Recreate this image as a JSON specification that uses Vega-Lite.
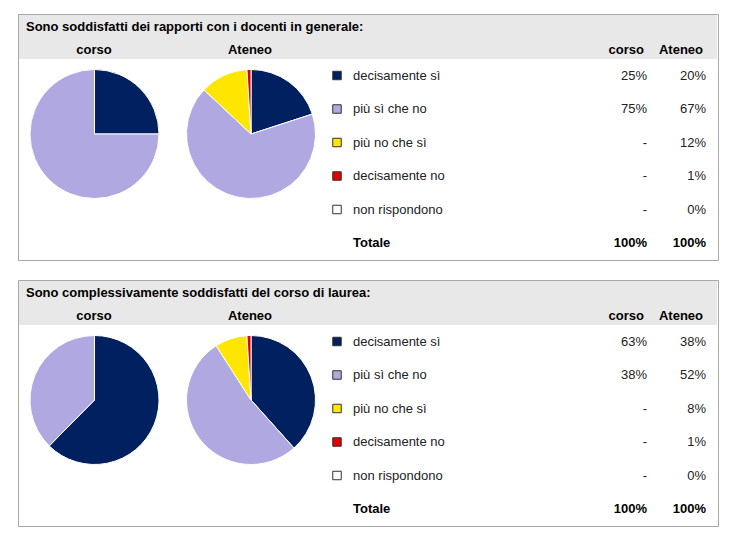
{
  "$schema": "https://vega.github.io/schema/vega-lite/v6.json",
  "background": "white",
  "padding": {"left": 17, "top": 13, "right": 16, "bottom": 5},
  "config": {
    "view": {"stroke": "#a8a8a8", "strokeWidth": 1},
    "font": "Liberation Sans",
    "text": {"font": "Liberation Sans", "fontSize": 13}
  },
  "data": {
    "values": [
      {"q": "Sono soddisfatti dei rapporti con i docenti in generale:", "scope": "corso", "cat": "decisamente sì", "order": 1, "v": 0.25},
      {"q": "Sono soddisfatti dei rapporti con i docenti in generale:", "scope": "corso", "cat": "più sì che no", "order": 2, "v": 0.75},
      {"q": "Sono soddisfatti dei rapporti con i docenti in generale:", "scope": "corso", "cat": "più no che sì", "order": 3, "v": null},
      {"q": "Sono soddisfatti dei rapporti con i docenti in generale:", "scope": "corso", "cat": "decisamente no", "order": 4, "v": null},
      {"q": "Sono soddisfatti dei rapporti con i docenti in generale:", "scope": "corso", "cat": "non rispondono", "order": 5, "v": null},
      {"q": "Sono soddisfatti dei rapporti con i docenti in generale:", "scope": "corso", "cat": "Totale", "order": 6, "v": 1},
      {"q": "Sono soddisfatti dei rapporti con i docenti in generale:", "scope": "Ateneo", "cat": "decisamente sì", "order": 1, "v": 0.20},
      {"q": "Sono soddisfatti dei rapporti con i docenti in generale:", "scope": "Ateneo", "cat": "più sì che no", "order": 2, "v": 0.67},
      {"q": "Sono soddisfatti dei rapporti con i docenti in generale:", "scope": "Ateneo", "cat": "più no che sì", "order": 3, "v": 0.12},
      {"q": "Sono soddisfatti dei rapporti con i docenti in generale:", "scope": "Ateneo", "cat": "decisamente no", "order": 4, "v": 0.01},
      {"q": "Sono soddisfatti dei rapporti con i docenti in generale:", "scope": "Ateneo", "cat": "non rispondono", "order": 5, "v": 0},
      {"q": "Sono soddisfatti dei rapporti con i docenti in generale:", "scope": "Ateneo", "cat": "Totale", "order": 6, "v": 1},
      {"q": "Sono complessivamente soddisfatti del corso di laurea:", "scope": "corso", "cat": "decisamente sì", "order": 1, "v": 0.63},
      {"q": "Sono complessivamente soddisfatti del corso di laurea:", "scope": "corso", "cat": "più sì che no", "order": 2, "v": 0.38},
      {"q": "Sono complessivamente soddisfatti del corso di laurea:", "scope": "corso", "cat": "più no che sì", "order": 3, "v": null},
      {"q": "Sono complessivamente soddisfatti del corso di laurea:", "scope": "corso", "cat": "decisamente no", "order": 4, "v": null},
      {"q": "Sono complessivamente soddisfatti del corso di laurea:", "scope": "corso", "cat": "non rispondono", "order": 5, "v": null},
      {"q": "Sono complessivamente soddisfatti del corso di laurea:", "scope": "corso", "cat": "Totale", "order": 6, "v": 1},
      {"q": "Sono complessivamente soddisfatti del corso di laurea:", "scope": "Ateneo", "cat": "decisamente sì", "order": 1, "v": 0.38},
      {"q": "Sono complessivamente soddisfatti del corso di laurea:", "scope": "Ateneo", "cat": "più sì che no", "order": 2, "v": 0.52},
      {"q": "Sono complessivamente soddisfatti del corso di laurea:", "scope": "Ateneo", "cat": "più no che sì", "order": 3, "v": 0.08},
      {"q": "Sono complessivamente soddisfatti del corso di laurea:", "scope": "Ateneo", "cat": "decisamente no", "order": 4, "v": 0.01},
      {"q": "Sono complessivamente soddisfatti del corso di laurea:", "scope": "Ateneo", "cat": "non rispondono", "order": 5, "v": 0},
      {"q": "Sono complessivamente soddisfatti del corso di laurea:", "scope": "Ateneo", "cat": "Totale", "order": 6, "v": 1}
    ]
  },
  "facet": {
    "row": {
      "field": "q",
      "type": "nominal",
      "sort": ["Sono soddisfatti dei rapporti con i docenti in generale:", "Sono complessivamente soddisfatti del corso di laurea:"],
      "header": {"title": null, "labels": false}
    }
  },
  "spacing": {"row": 18},
  "spec": {
    "width": 700,
    "height": 246,
    "resolve": {"scale": {"x": "independent"}},
    "layer": [
      {
        "transform": [{"filter": "datum.cat === 'decisamente sì' && datum.scope === 'corso'"}],
        "mark": {"type": "rect", "fill": "#e8e8e8"},
        "encoding": {
          "x": {"value": 1},
          "x2": {"value": 699},
          "y": {"value": 1},
          "y2": {"value": 45}
        }
      },
      {
        "transform": [{"filter": "datum.cat === 'decisamente sì' && datum.scope === 'corso'"}],
        "mark": {"type": "text", "align": "left", "baseline": "middle", "fontWeight": "bold", "fontSize": 13, "color": "#000"},
        "encoding": {
          "x": {"value": 8},
          "y": {"value": 13},
          "text": {"field": "q", "type": "nominal"}
        }
      },
      {
        "transform": [{"filter": "datum.cat === 'decisamente sì'"}],
        "mark": {"type": "text", "align": "center", "baseline": "middle", "fontWeight": "bold", "fontSize": 13, "color": "#000"},
        "encoding": {
          "x": {"field": "scope", "type": "nominal", "scale": {"type": "point", "domain": ["corso", "Ateneo"], "range": [76, 232], "padding": 0}, "axis": null},
          "y": {"value": 36},
          "text": {"field": "scope", "type": "nominal"}
        }
      },
      {
        "transform": [{"filter": "datum.cat === 'decisamente sì'"}],
        "mark": {"type": "text", "align": "right", "baseline": "middle", "fontWeight": "bold", "fontSize": 13, "color": "#000", "dx": -3},
        "encoding": {
          "x": {"field": "scope", "type": "nominal", "scale": {"type": "point", "domain": ["corso", "Ateneo"], "range": [629, 688], "padding": 0}, "axis": null},
          "y": {"value": 36},
          "text": {"field": "scope", "type": "nominal"}
        }
      },
      {
        "transform": [
          {"filter": "datum.cat !== 'Totale' && datum.v > 0"},
          {"stack": "v", "groupby": ["q", "scope"], "sort": [{"field": "order", "order": "ascending"}], "offset": "normalize", "as": ["t0", "t1"]}
        ],
        "mark": {"type": "arc", "radius": 64.5, "stroke": "white", "strokeWidth": 1},
        "encoding": {
          "x": {"field": "scope", "type": "nominal", "scale": {"type": "point", "domain": ["corso", "Ateneo"], "range": [76.5, 233], "padding": 0}, "axis": null},
          "y": {"value": 120},
          "theta": {"field": "t0", "type": "quantitative", "scale": {"domain": [0, 1]}},
          "theta2": {"field": "t1"},
          "color": {
            "field": "cat", "type": "nominal",
            "scale": {"domain": ["decisamente sì", "più sì che no", "più no che sì", "decisamente no", "non rispondono"], "range": ["#002060", "#b0a8e0", "#ffe600", "#e00000", "#ffffff"]},
            "legend": null
          }
        }
      },
      {
        "transform": [{"filter": "datum.cat !== 'Totale' && datum.scope === 'corso'"}],
        "mark": {"type": "point", "shape": "square", "filled": true, "size": 72, "stroke": "#333", "strokeWidth": 1, "opacity": 1},
        "encoding": {
          "x": {"value": 319},
          "y": {"field": "cat", "type": "nominal", "scale": {"type": "point", "domain": ["decisamente sì", "più sì che no", "più no che sì", "decisamente no", "non rispondono", "Totale"], "range": [61.5, 229], "padding": 0}, "axis": null},
          "color": {"field": "cat", "type": "nominal", "legend": null}
        }
      },
      {
        "transform": [{"filter": "datum.cat !== 'Totale' && datum.scope === 'corso'"}],
        "mark": {"type": "text", "align": "left", "baseline": "middle", "fontSize": 13, "color": "#222"},
        "encoding": {
          "x": {"value": 335},
          "y": {"field": "cat", "type": "nominal", "axis": null},
          "text": {"field": "cat", "type": "nominal"}
        }
      },
      {
        "transform": [{"filter": "datum.cat === 'Totale' && datum.scope === 'corso'"}],
        "mark": {"type": "text", "align": "left", "baseline": "middle", "fontSize": 13, "fontWeight": "bold", "color": "#000"},
        "encoding": {
          "x": {"value": 335},
          "y": {"field": "cat", "type": "nominal", "axis": null},
          "text": {"field": "cat", "type": "nominal"}
        }
      },
      {
        "transform": [{"filter": "datum.cat !== 'Totale'"}],
        "mark": {"type": "text", "align": "right", "baseline": "middle", "fontSize": 13, "color": "#222"},
        "encoding": {
          "x": {"field": "scope", "type": "nominal", "scale": {"type": "point", "domain": ["corso", "Ateneo"], "range": [629, 688], "padding": 0}, "axis": null},
          "y": {"field": "cat", "type": "nominal", "axis": null},
          "text": {"condition": {"test": "datum.v === null", "value": "-"}, "field": "v", "type": "quantitative", "format": ".0%"}
        }
      },
      {
        "transform": [{"filter": "datum.cat === 'Totale'"}],
        "mark": {"type": "text", "align": "right", "baseline": "middle", "fontSize": 13, "fontWeight": "bold", "color": "#000"},
        "encoding": {
          "x": {"field": "scope", "type": "nominal", "scale": {"type": "point", "domain": ["corso", "Ateneo"], "range": [629, 688], "padding": 0}, "axis": null},
          "y": {"field": "cat", "type": "nominal", "axis": null},
          "text": {"field": "v", "type": "quantitative", "format": ".0%"}
        }
      }
    ]
  }
}
